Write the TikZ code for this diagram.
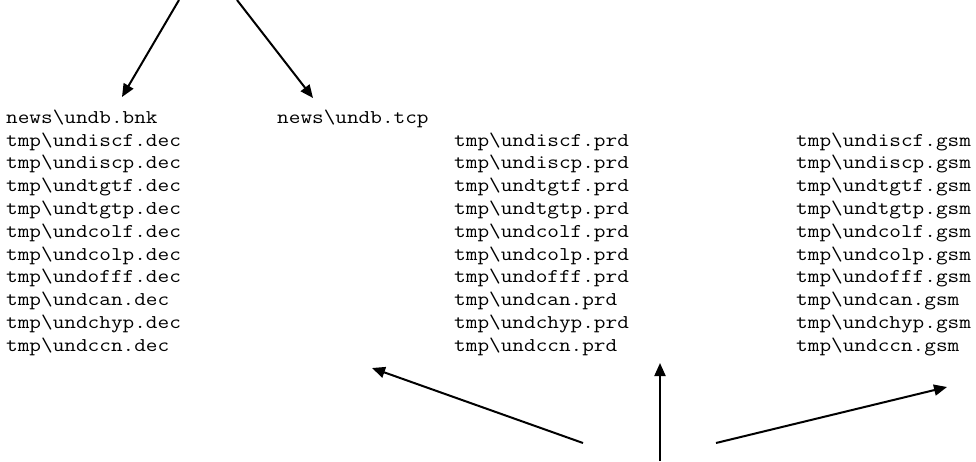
\documentclass[tikz,border=0pt]{standalone}
\usepackage{graphicx}
\usetikzlibrary{arrows.meta}
\begin{document}
\begin{tikzpicture}[x=1pt,y=-1pt,
  fname/.style={anchor=base west,inner sep=0pt,font=\ttfamily\fontsize{19.5}{22.8}\selectfont},
  arr/.style={line width=2pt,-{Triangle[length=13pt,width=11pt]}}]
\newcommand{\fnx}[1]{\scalebox{1.16}[1]{#1}}
\useasboundingbox (0,0) rectangle (976,461);
% top row
\node[fname] (bnk) at (6,123) {\fnx{news\textbackslash undb.bnk}};
\node[fname] (tcp) at (277,123) {\fnx{news\textbackslash undb.tcp}};
% columns
\foreach \n [count=\i from 0] in {undiscf,undiscp,undtgtf,undtgtp,undcolf,undcolp,undofff,undcan,undchyp,undccn}{
  \node[fname] (dec\i) at (6,146+22.8*\i) {\fnx{tmp\textbackslash \n.dec}};
  \node[fname] (prd\i) at (454,146+22.8*\i) {\fnx{tmp\textbackslash \n.prd}};
  \node[fname] (gsm\i) at (796,146+22.8*\i) {\fnx{tmp\textbackslash \n.gsm}};
}
% arrow ends
\coordinate (t1s) at (179,0);
\coordinate (t1e) at (122,97);
\coordinate (t2s) at (237,0);
\coordinate (t2e) at (313,98);
\coordinate (b1s) at (583,443);
\coordinate (b1e) at (372,368);
\coordinate (b2s) at (660,461);
\coordinate (b2e) at (660,363);
\coordinate (b3s) at (716,443);
\coordinate (b3e) at (947,387);
\draw[arr] (t1s) -- (t1e);
\draw[arr] (t2s) -- (t2e);
\draw[arr] (b1s) -- (b1e);
\draw[arr] (b2s) -- (b2e);
\draw[arr] (b3s) -- (b3e);
\end{tikzpicture}
\end{document}
